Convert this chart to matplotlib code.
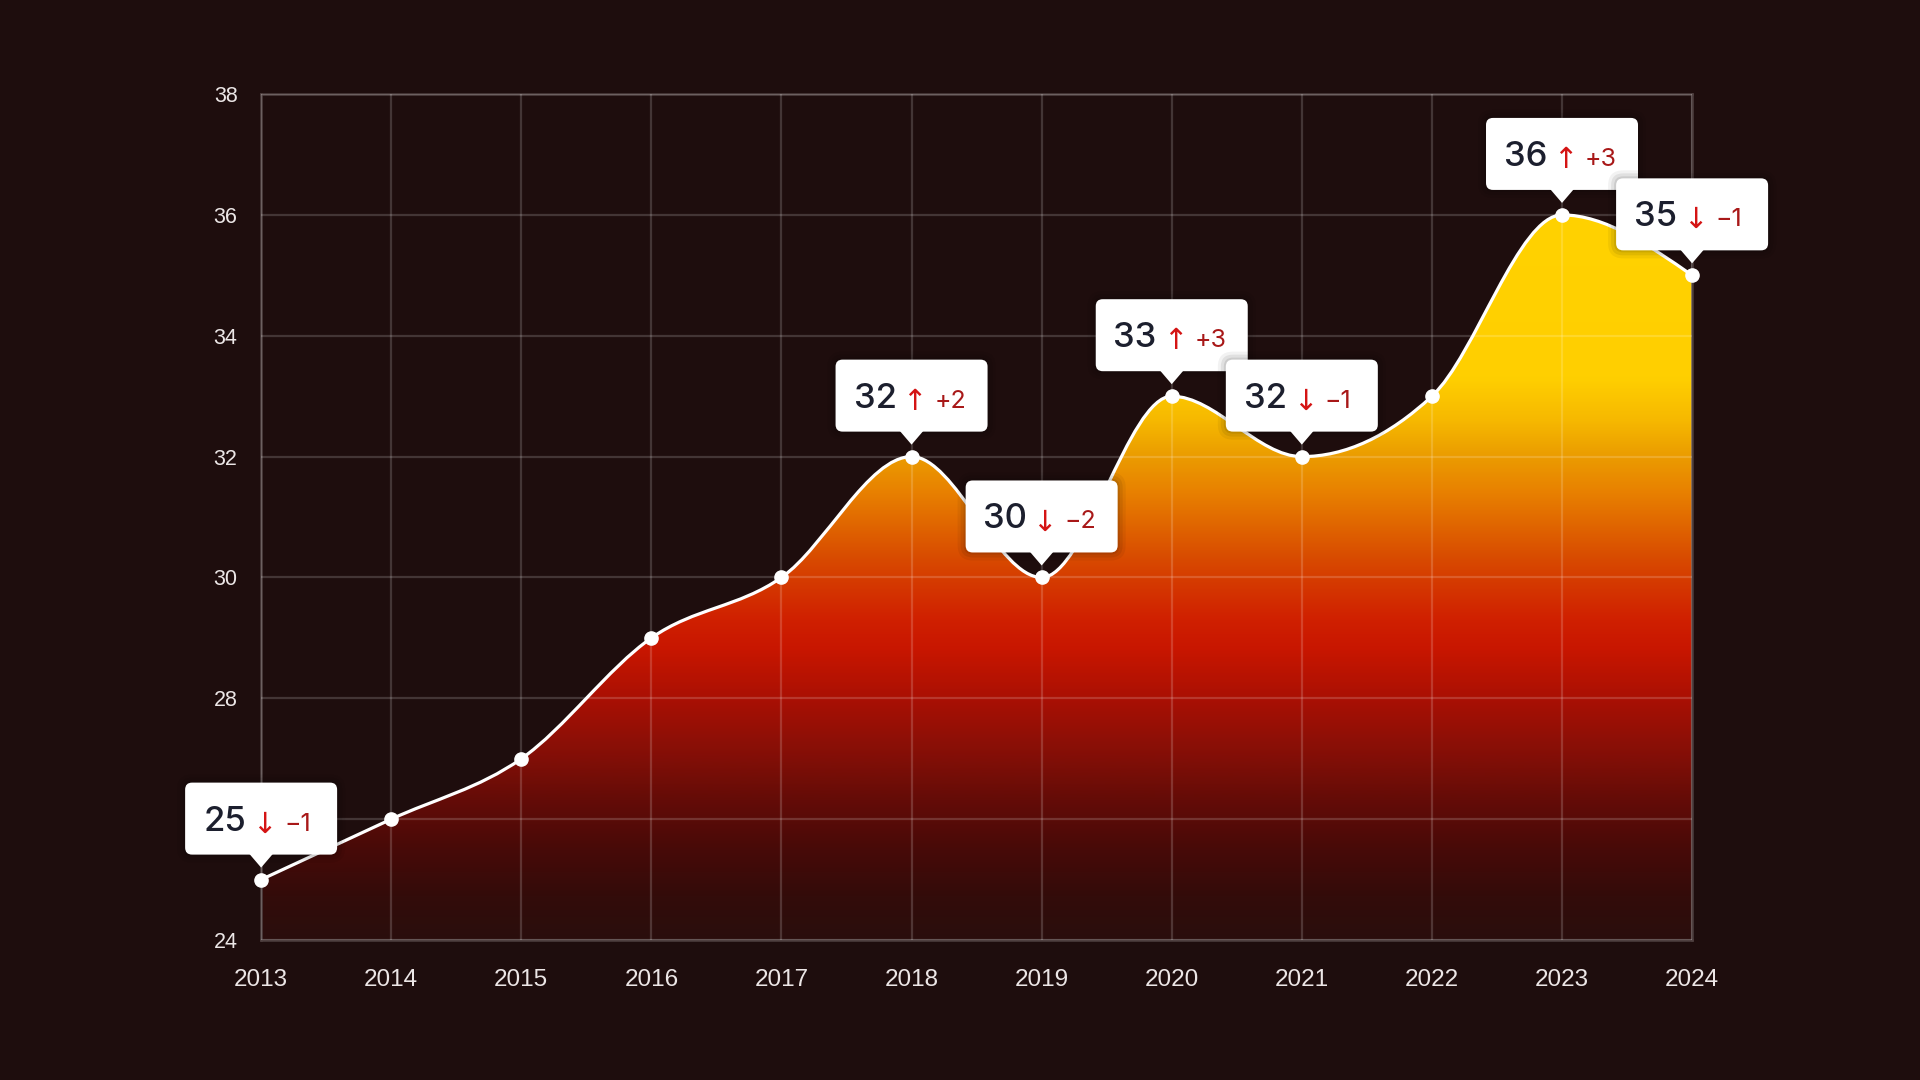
import numpy as np
import matplotlib.pyplot as plt
import matplotlib.transforms as mtransforms
from matplotlib.path import Path
from matplotlib.patches import PathPatch, FancyBboxPatch, Polygon
from matplotlib.colors import LinearSegmentedColormap

# data
years = [2013, 2014, 2015, 2016, 2017, 2018, 2019, 2020, 2021, 2022, 2023, 2024]
values = [25, 26, 27, 29, 30, 32, 30, 33, 32, 33, 36, 35]
label_years = [2013, 2018, 2019, 2020, 2021, 2023, 2024]
label_deltas = [-1, 2, -2, 3, -1, 3, -1]
y_ticks = [24, 26, 28, 30, 32, 34, 36, 38]

# gradient stops (data value -> colour)
grad_vals = [24.0, 24.7, 25.5, 26.3, 27.1, 28.0, 28.8, 29.3, 30.3, 31.4, 32.1, 32.6, 33.3, 38.0]
grad_cols = ['#2a0e0d', '#330c0a', '#480a08', '#640c07', '#860f07', '#aa1004', '#c81600',
             '#d02000', '#d84a00', '#e88000', '#eca000', '#f6b800', '#ffcf00', '#ffd400']

BG = '#1e0d0d'
GRID_ALPHA = 0.17

fig = plt.figure(figsize=(19.2, 10.8), dpi=100, facecolor=BG)
ax = fig.add_axes([0.136, 0.1296, 0.7453, 0.7833])
ax.set_facecolor(BG)
ymin, ymax = y_ticks[0], y_ticks[-1]
ax.set_xlim(years[0], years[-1])
ax.set_ylim(ymin, ymax)

# monotone cubic (d3 monotoneX style) as bezier path
x = np.array(years, float)
y = np.array(values, float)
h = np.diff(x)
s = np.diff(y) / h
t = np.zeros_like(y)
for i in range(1, len(y) - 1):
    p = (s[i - 1] * h[i] + s[i] * h[i - 1]) / (h[i - 1] + h[i])
    t[i] = (np.sign(s[i - 1]) + np.sign(s[i])) * min(abs(s[i - 1]), abs(s[i]), 0.5 * abs(p))
t[0] = (3 * s[0] - t[1]) / 2
t[-1] = (3 * s[-1] - t[-2]) / 2

verts = [(x[0], y[0])]
codes = [Path.MOVETO]
for i in range(len(x) - 1):
    d = h[i] / 3
    verts += [(x[i] + d, y[i] + t[i] * d), (x[i + 1] - d, y[i + 1] - t[i + 1] * d), (x[i + 1], y[i + 1])]
    codes += [Path.CURVE4] * 3
curve = Path(verts, codes)
fill_path = Path(verts + [(x[-1], ymin), (x[0], ymin), (x[0], y[0])],
                 codes + [Path.LINETO, Path.LINETO, Path.CLOSEPOLY])

# gradient fill
stops = [((v - ymin) / (ymax - ymin), c) for v, c in zip(grad_vals, grad_cols)]
cmap = LinearSegmentedColormap.from_list('heat', stops)
clip = PathPatch(fill_path, transform=ax.transData, facecolor='none', edgecolor='none')
ax.add_patch(clip)
im = ax.imshow(np.linspace(0, 1, 512).reshape(-1, 1), extent=[x[0], x[-1], ymin, ymax],
               origin='lower', aspect='auto', cmap=cmap, zorder=1, interpolation='bicubic')
im.set_clip_path(clip)

# grid on top of fill
ax.set_xticks(years)
ax.set_yticks(y_ticks)
ax.grid(True, color='white', alpha=GRID_ALPHA, lw=1.6, zorder=2)
ax.set_axisbelow(False)
for sp in ax.spines.values():
    sp.set_color('#4f4040')
    sp.set_linewidth(1.8)
    sp.set_zorder(2)

ax.add_patch(PathPatch(curve, fill=False, edgecolor='white', lw=2.3, zorder=4, clip_on=False))
ax.plot(years, values, 'o', color='white', ms=9.5, zorder=5, clip_on=False)

ax.tick_params(length=0, colors='#ece6e6')
ax.tick_params(axis='x', labelsize=17.5, pad=21)
ax.tick_params(axis='y', labelsize=15.5, pad=17)
for lab in ax.get_xticklabels() + ax.get_yticklabels():
    lab.set_fontfamily('Liberation Sans')

# value callouts
px = 1 / fig.dpi
val_map = dict(zip(years, values))
for yr, dlt in zip(label_years, label_deltas):
    v = val_map[yr]
    tr = fig.dpi_scale_trans + mtransforms.ScaledTranslation(yr, v, ax.transData)
    bw, bh, b0 = 152, 72, 25
    # faint shadow
    for k, a in [(8, 0.05), (5, 0.07), (2, 0.09)]:
        ax.add_patch(FancyBboxPatch(((-bw / 2 - k) * px, (b0 - k) * px), (bw + 2 * k) * px,
                                    (bh + 2 * k) * px,
                                    boxstyle='round,pad=0,rounding_size=%f' % ((7 + k) * px),
                                    transform=tr, facecolor='black', alpha=a, edgecolor='none',
                                    zorder=6, clip_on=False))
    box = FancyBboxPatch((-bw / 2 * px, b0 * px), bw * px, bh * px,
                         boxstyle='round,pad=0,rounding_size=%f' % (7 * px),
                         transform=tr, facecolor='white', edgecolor='none',
                         zorder=6, clip_on=False)
    ax.add_patch(box)
    tri = Polygon([(-12 * px, (b0 + 1) * px), (12 * px, (b0 + 1) * px), (0, 12 * px)],
                  closed=True, transform=tr, facecolor='white', edgecolor='none',
                  zorder=6, clip_on=False)
    ax.add_patch(tri)
    arrow = '\u2191' if dlt > 0 else '\u2193'
    ax.text(-15 * px, 49 * px, str(v), transform=tr, ha='right', va='baseline',
            fontsize=25, fontweight='medium', color='#1c1f2e', family='Inter', zorder=7)
    ax.text(3 * px, 47 * px, arrow, transform=tr, ha='center', va='baseline',
            fontsize=21, color='#d41414', family='DejaVu Sans', zorder=7)
    ax.text(23 * px, 49 * px, '%+d' % dlt if dlt > 0 else '\u2212%d' % abs(dlt), transform=tr,
            ha='left', va='baseline', fontsize=18, color='#a81818', family='Inter', zorder=7)

fig.savefig('out.png', dpi=100, facecolor=BG)
